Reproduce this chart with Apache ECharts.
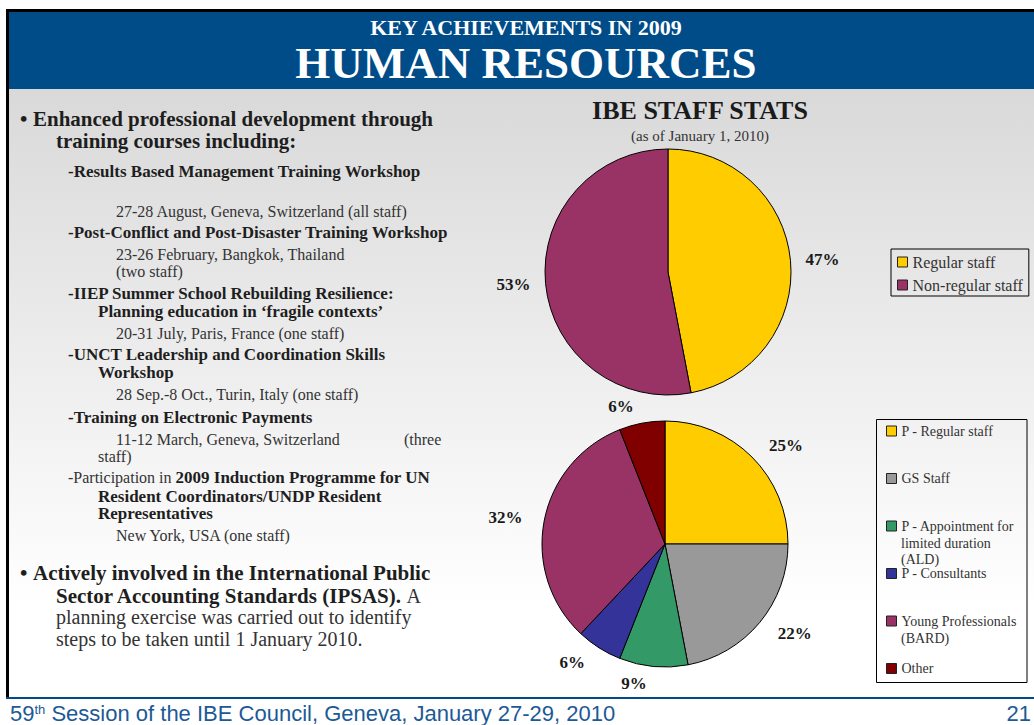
<!DOCTYPE html>
<html>
<head>
<meta charset="utf-8">
<title>Key achievements in 2009 - Human resources</title>
<script src="https://cdn.jsdelivr.net/npm/echarts@6/dist/echarts.min.js"></script>
<style>
  html, body { margin: 0; padding: 0; background: #fff; }
  #slide { width: 1034px; height: 725px; }
</style>
</head>
<body>
<div id="slide"></div>
<script>
// IBE staff stats as of January 1, 2010 (percent of staff)
const staffTypes = ['Regular staff', 'Non-regular staff'];
const staffShares = [47, 53];
const typeColors = ['#ffcc00', '#993366'];

const staffGroups = ['P - Regular staff', 'GS Staff', 'P - Appointment for\nlimited duration\n(ALD)',
  'P - Consultants', 'Young Professionals\n(BARD)', 'Other'];
const groupShares = [25, 22, 9, 6, 32, 6];
const groupColors = ['#ffcc00', '#999999', '#339966', '#333399', '#993366', '#800000'];

// left column of the slide: [x, baseline, rich text]
const bodyLines = [
  [20, 126, '{B|•}'],
  [33, 126, '{B|Enhanced professional development through}'],
  [56, 148, '{B|training courses including:}'],
  [68, 177, '{b|-Results Based Management Training Workshop}'],
  [116, 217, '{n|27-28 August, Geneva, Switzerland (all staff)}'],
  [68, 238, '{b|-Post-Conflict and Post-Disaster Training Workshop}'],
  [116, 260, '{n|23-26 February, Bangkok, Thailand}'],
  [116, 277, '{n|(two staff)}'],
  [68, 299, '{b|-IIEP Summer School Rebuilding Resilience:}'],
  [98, 317, '{b|Planning education in ‘fragile contexts’}'],
  [116, 339, '{n|20-31 July, Paris, France (one staff)}'],
  [68, 360, '{b|-UNCT Leadership and Coordination Skills}'],
  [98, 378, '{b|Workshop}'],
  [116, 400, '{n|28 Sep.-8 Oct., Turin, Italy (one staff)}'],
  [68, 423, '{b|-Training on Electronic Payments}'],
  [116, 445, '{n|11-12 March, Geneva, Switzerland}'],
  [404, 445, '{n|(three}'],
  [98, 462, '{n|staff)}'],
  [68, 483, '{n|-Participation in }{b|2009 Induction Programme for UN}'],
  [98, 502, '{b|Resident Coordinators/UNDP Resident}'],
  [98, 519, '{b|Representatives}'],
  [116, 541, '{n|New York, USA (one staff)}'],
  [20, 580, '{B|•}'],
  [33, 580, '{B|Actively involved in the International Public}'],
  [56, 603, '{B|Sector Accounting Standards (IPSAS).}{N| A}'],
  [56, 624, '{N|planning exercise was carried out to identify}'],
  [56, 646, '{N|steps to be taken until 1 January 2010.}']
];

const SERIF = '"Liberation Serif", "Times New Roman", serif';
const SANS = '"Liberation Sans", Arial, sans-serif';
const BLUE = '#004c88';
const FOOT_BLUE = '#1c5a96';

const bodyRich = {
  B: { fontFamily: SERIF, fontSize: 21, fontWeight: 'bold', fill: '#1e1e1e' },
  N: { fontFamily: SERIF, fontSize: 20, fill: '#333' },
  b: { fontFamily: SERIF, fontSize: 17, fontWeight: 'bold', fill: '#1e1e1e' },
  n: { fontFamily: SERIF, fontSize: 16, fill: '#333' }
};

// text placed by its baseline (middle of em box is ~0.34em above it)
function textAt(x, baseline, size, style) {
  return {
    type: 'text', silent: true,
    style: Object.assign({
      x: x, y: baseline - 0.34 * size,
      align: 'left', verticalAlign: 'middle',
      textAlign: 'left', textVerticalAlign: 'middle'
    }, style)
  };
}

const graphics = [
  // slide frame
  { type: 'rect', silent: true, shape: { x: 9, y: 89, width: 1025, height: 608 },
    style: { fill: { type: 'linear', x: 0, y: 0, x2: 0, y2: 1,
      colorStops: [{ offset: 0, color: '#d9d9d9' }, { offset: 0.85, color: '#ffffff' }, { offset: 1, color: '#ffffff' }] } } },
  { type: 'rect', silent: true, shape: { x: 6, y: 9, width: 1028, height: 3 }, style: { fill: '#000' } },
  { type: 'rect', silent: true, shape: { x: 6, y: 9, width: 3, height: 688 }, style: { fill: '#000' } },
  { type: 'rect', silent: true, shape: { x: 9, y: 12, width: 1025, height: 77 }, style: { fill: BLUE } },
  { type: 'rect', silent: true, shape: { x: 6, y: 697, width: 1028, height: 2 }, style: { fill: BLUE } },
  // heading
  textAt(526, 35, 22, { text: 'KEY ACHIEVEMENTS IN 2009', align: 'center', textAlign: 'center',
    fontFamily: SERIF, fontSize: 22, fontWeight: 'bold', fill: '#fff' }),
  textAt(526, 78, 45, { text: 'HUMAN RESOURCES', align: 'center', textAlign: 'center',
    fontFamily: SERIF, fontSize: 45, fontWeight: 'bold', fill: '#fff' }),
  // footer
  textAt(10, 721, 22, { text: '{a|59}{s|th}{a| Session of the IBE Council, Geneva, January 27-29, 2010}',
    rich: { a: { fontFamily: SANS, fontSize: 22, fill: FOOT_BLUE },
            s: { fontFamily: SANS, fontSize: 13, fill: FOOT_BLUE, verticalAlign: 'top' } } }),
  textAt(1031, 721, 22, { text: '21', align: 'right', textAlign: 'right',
    fontFamily: SANS, fontSize: 22, fill: FOOT_BLUE }),
  // box round the second legend
  { type: 'rect', silent: true, shape: { x: 876.5, y: 419.5, width: 150.5, height: 263 },
    style: { fill: 'none', stroke: '#000', lineWidth: 1 } }
];

bodyLines.forEach(function (l) {
  const size = /^\{[BN]\|/.test(l[2]) ? 20.5 : 16.5;
  graphics.push(textAt(l[0], l[1], size, { text: l[2], rich: bodyRich }));
});

// second legend: one slot per group, long names wrap under their first line
const SLOT_TOP = 424, SLOT_STEP = 47.5, WRAP_STEP = 16.5;
staffGroups.forEach(function (name, i) {
  name.split('\n').slice(1).forEach(function (line, k) {
    graphics.push({
      type: 'text', silent: true,
      style: {
        text: line, x: 901, y: SLOT_TOP + 7.5 + i * SLOT_STEP + (k + 1) * WRAP_STEP,
        align: 'left', verticalAlign: 'middle', textAlign: 'left', textVerticalAlign: 'middle',
        fontFamily: SERIF, fontSize: 14, fill: '#333'
      }
    });
  });
});

function pieLabel() {
  return {
    show: true, position: 'outside', formatter: '{d}%', distanceToLabelLine: 5,
    fontFamily: SERIF, fontSize: 17, fontWeight: 'bold', color: '#1a1a1a'
  };
}

const legendIcon = { borderColor: '#222', borderWidth: 1 };

const chart = echarts.init(document.getElementById('slide'), null, { renderer: 'svg' });
chart.setOption({
  animation: false,
  backgroundColor: '#fff',
  title: {
    text: 'IBE STAFF STATS',
    subtext: '(as of January 1, 2010)',
    left: 700, top: 97, textAlign: 'center', itemGap: 5, padding: 0,
    textStyle: { fontFamily: SERIF, fontSize: 26, fontWeight: 'bold', color: '#1a1a1a' },
    subtextStyle: { fontFamily: SERIF, fontSize: 15, color: '#333' }
  },
  legend: [
    {
      data: staffTypes, orient: 'vertical', left: 891, top: 249,
      padding: [5, 6, 3, 6], itemGap: 7, itemWidth: 10, itemHeight: 10, icon: 'rect',
      borderColor: '#000', borderWidth: 1, selectedMode: false,
      itemStyle: legendIcon,
      textStyle: { fontFamily: SERIF, fontSize: 16, color: '#333' }
    }
  ].concat(staffGroups.map(function (name, i) {
    return {
      data: [name], orient: 'vertical', left: 886, top: SLOT_TOP + i * SLOT_STEP,
      padding: 0, itemWidth: 10, itemHeight: 10, icon: 'rect', selectedMode: false,
      itemStyle: legendIcon,
      formatter: function (n) { return n.split('\n')[0]; },
      textStyle: { fontFamily: SERIF, fontSize: 14, color: '#333' }
    };
  })),
  graphic: { elements: graphics },
  series: [
    {
      type: 'pie', name: 'Staff', center: [668, 272], radius: 123, startAngle: 90,
      silent: true, avoidLabelOverlap: false,
      label: pieLabel(), labelLine: { show: false, length: 10, length2: 0 },
      itemStyle: { borderColor: '#000', borderWidth: 1 },
      data: staffTypes.map(function (n, i) {
        return { name: n, value: staffShares[i], itemStyle: { color: typeColors[i] } };
      })
    },
    {
      type: 'pie', name: 'Staff groups', center: [665, 544], radius: 123, startAngle: 90,
      silent: true, avoidLabelOverlap: false,
      label: pieLabel(), labelLine: { show: false, length: 17, length2: 0 },
      itemStyle: { borderColor: '#000', borderWidth: 1 },
      data: staffGroups.map(function (n, i) {
        return { name: n, value: groupShares[i], itemStyle: { color: groupColors[i] } };
      })
    }
  ]
});
</script>
</body>
</html>
